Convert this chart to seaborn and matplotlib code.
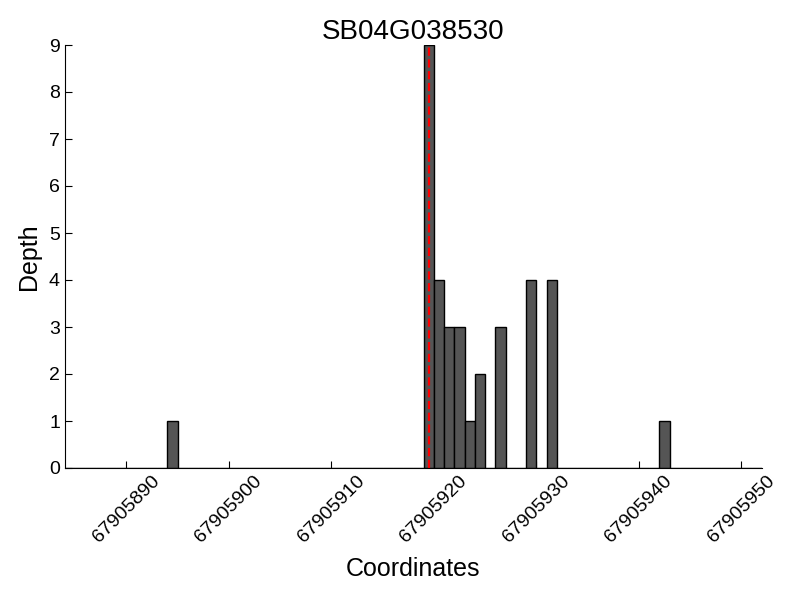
import numpy as np
import pandas as pd
import matplotlib
matplotlib.use("Agg")
import matplotlib.pyplot as plt
import matplotlib.ticker as mticker
import seaborn as sns

# read depth per coordinate (left edge of each 1bp bar)
positions = [67905894, 67905919, 67905920, 67905921, 67905922, 67905923,
             67905924, 67905926, 67905929, 67905931, 67905942]
depths = [1, 9, 4, 3, 3, 1, 2, 3, 4, 4, 1]
marker_pos = 67905919  # highlighted site (red dashed line)
gene_name = "SB04G038530"
x_start, x_end = 67905884, 67905952

df = pd.DataFrame({"Coordinates": positions, "Depth": depths})

sns.set_style("ticks", {"axes.edgecolor": "black", "text.color": "black",
                        "axes.labelcolor": "black", "xtick.color": "black",
                        "ytick.color": "black"})
plt.rcParams['font.family'] = ['Liberation Sans', 'DejaVu Sans']

fig, ax = plt.subplots(figsize=(8, 6), dpi=100)
fig.subplots_adjust(left=0.081, right=0.9525, top=0.925, bottom=0.22)

sns.histplot(data=df, x="Coordinates", weights="Depth",
             binwidth=1, binrange=(x_start, x_end), color="#555555",
             edgecolor="black", linewidth=1, alpha=1, ax=ax)

ax.axvline(marker_pos + 0.5, color="red", linestyle="--", linewidth=1.6)

ax.set_xlim(x_start, x_end)
ax.set_ylim(0, max(depths))
ax.xaxis.set_major_locator(mticker.MultipleLocator(10))
ax.xaxis.set_major_formatter(mticker.FormatStrFormatter("%d"))
ax.yaxis.set_major_locator(mticker.MultipleLocator(1))
ax.tick_params(direction="in", length=5, labelsize=14, colors="black")
plt.setp(ax.get_xticklabels(), rotation=45)

sns.despine(ax=ax)
ax.set_title(gene_name, fontsize=20, pad=2, color="black")
ax.set_xlabel("Coordinates", fontsize=18, labelpad=8, color="black")
ax.set_ylabel("Depth", fontsize=18, labelpad=6, color="black")

fig.savefig("out.png", dpi=100)
